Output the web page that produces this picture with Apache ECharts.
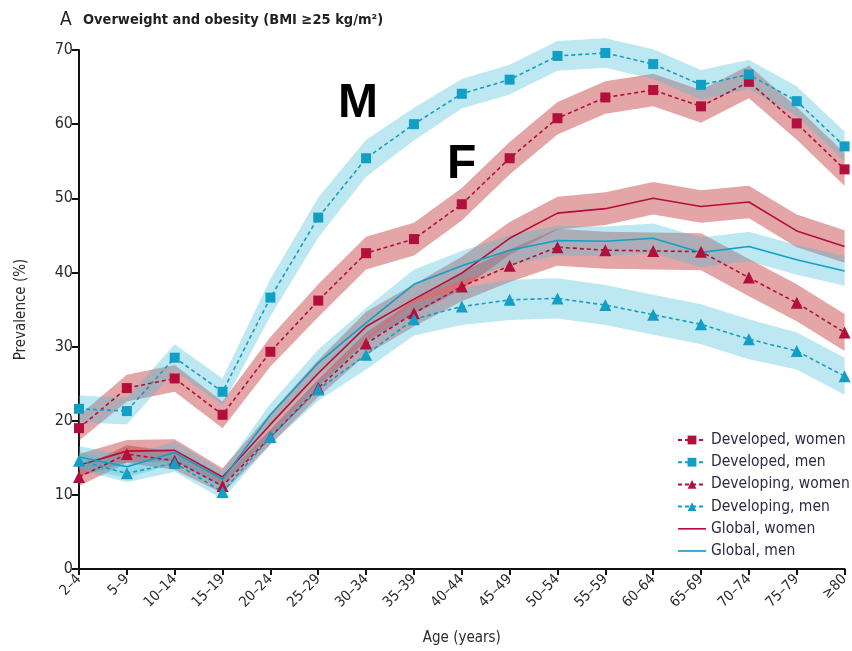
<!DOCTYPE html>
<html>
<head>
<meta charset="utf-8">
<script src="https://cdn.jsdelivr.net/npm/echarts@6/dist/echarts.min.js"></script>
<style>
  html, body { margin: 0; padding: 0; background: #fff; }
  #chart { width: 852px; height: 651px; }
</style>
</head>
<body>
<div id="chart"></div>
<script>
// Age groups
const ageGroups = ['2–4','5–9','10–14','15–19','20–24','25–29','30–34','35–39','40–44','45–49','50–54','55–59','60–64','65–69','70–74','75–79','≥80'];

// Prevalence of overweight and obesity (%), central estimates
const developedWomen  = [19.0, 24.4, 25.7, 20.8, 29.3, 36.2, 42.6, 44.5, 49.2, 55.4, 60.8, 63.6, 64.6, 62.4, 65.7, 60.1, 53.9];
const developedMen    = [21.6, 21.3, 28.5, 23.9, 36.6, 47.4, 55.4, 60.0, 64.1, 66.0, 69.2, 69.6, 68.1, 65.3, 66.7, 63.1, 57.0];
const developingWomen = [12.4, 15.5, 14.6, 11.2, 17.8, 24.4, 30.4, 34.5, 38.1, 40.9, 43.4, 43.0, 42.9, 42.8, 39.3, 35.9, 31.9];
const developingMen   = [14.6, 12.9, 14.3, 10.4, 17.8, 24.2, 28.9, 33.7, 35.4, 36.3, 36.5, 35.6, 34.3, 33.0, 31.0, 29.4, 26.0];
const globalWomen     = [14.0, 15.9, 16.0, 12.4, 19.5, 26.4, 32.7, 36.4, 39.9, 44.6, 48.0, 48.6, 50.0, 48.9, 49.5, 45.6, 43.5];
const globalMen       = [15.1, 13.8, 15.7, 12.1, 20.8, 27.8, 33.2, 38.4, 40.9, 43.0, 44.3, 44.2, 44.6, 42.7, 43.5, 41.7, 40.2];

// Half-widths of the uncertainty intervals (percentage points)
const developedWomenUI  = [1.7, 1.8, 1.8, 1.8, 2.0, 2.2, 2.2, 2.2, 2.2, 2.2, 2.2, 2.2, 2.2, 2.2, 2.2, 2.2, 2.2];
const developedMenUI    = [1.8, 1.8, 1.8, 1.8, 2.5, 2.7, 2.5, 2.2, 2.0, 2.0, 2.0, 2.0, 2.0, 2.0, 2.0, 2.0, 2.0];
const developingWomenUI = [1.2, 1.2, 1.2, 1.0, 1.0, 1.2, 1.5, 1.8, 2.0, 2.2, 2.5, 2.5, 2.5, 2.5, 2.5, 2.5, 2.5];
const developingMenUI   = [1.2, 1.2, 1.2, 1.0, 1.0, 1.5, 2.0, 2.2, 2.5, 2.7, 2.7, 2.7, 2.7, 2.7, 2.7, 2.5, 2.5];
const globalWomenUI     = [1.5, 1.5, 1.5, 1.2, 1.5, 1.8, 2.0, 2.0, 2.2, 2.2, 2.2, 2.2, 2.2, 2.2, 2.2, 2.2, 2.2];
const globalMenUI       = [1.5, 1.5, 1.5, 1.2, 1.5, 1.8, 2.0, 2.0, 2.0, 2.0, 2.0, 2.0, 2.0, 2.0, 2.0, 2.0, 2.0];

const yTicks = [0, 10, 20, 30, 40, 50, 60, 70];

const RED = '#b20f3c';
const CYAN = '#139ec6';
const RED_BAND = 'rgba(190,40,45,0.42)';
const CYAN_BAND = 'rgba(70,190,215,0.35)';
const FONT = '"Liberation Sans Narrow", "DejaVu Sans Condensed", "Open Sans", sans-serif';
const LINE_ICON = 'path://M0,0h34v2h-34z';

// Uncertainty band as a stacked pair: invisible lower edge + filled width
function band(key, mid, half, fill) {
  const lower = mid.map((v, i) => +(v - half[i]).toFixed(2));
  const width = half.map(h => +(2 * h).toFixed(2));
  return [
    { type: 'line', name: key + '-lo', stack: key, data: lower, symbol: 'none', silent: true, clip: false,
      lineStyle: { opacity: 0 }, emphasis: { disabled: true } },
    { type: 'line', name: key + '-hi', stack: key, data: width, symbol: 'none', silent: true, clip: false,
      lineStyle: { opacity: 0 }, areaStyle: { color: fill, opacity: 1 }, emphasis: { disabled: true } }
  ];
}

function line(name, data, color, dashed, symbol, size) {
  return {
    type: 'line', name, data, silent: true, clip: false,
    symbol: symbol || 'none', symbolSize: size || 0, showSymbol: !!symbol,
    itemStyle: { color },
    lineStyle: { color, width: 1.6, type: dashed ? [4, 3] : 'solid' },
    emphasis: { disabled: true }
  };
}

const series = [
  ...band('dw', developedWomen, developedWomenUI, RED_BAND),
  line('Developed, women', developedWomen, RED, true, 'rect', 10),
  ...band('dm', developedMen, developedMenUI, CYAN_BAND),
  line('Developed, men', developedMen, CYAN, true, 'rect', 10),
  ...band('gw', developingWomen, developingWomenUI, RED_BAND),
  line('Developing, women', developingWomen, RED, true, 'triangle', 12),
  ...band('tw', globalWomen, globalWomenUI, RED_BAND),
  line('Global, women', globalWomen, RED, false),
  ...band('tm', globalMen, globalMenUI, CYAN_BAND),
  line('Global, men', globalMen, CYAN, false),
  ...band('gm', developingMen, developingMenUI, CYAN_BAND),
  line('Developing, men', developingMen, CYAN, true, 'triangle', 12)
];

const chart = echarts.init(document.getElementById('chart'), null, { renderer: 'canvas' });
chart.setOption({
  animation: false,
  backgroundColor: '#fff',
  textStyle: { fontFamily: FONT },
  title: {
    text: '{a|A}  {b|Overweight and obesity (BMI ≥25 kg/m²)}',
    left: 55, top: 6,
    textStyle: {
      rich: {
        a: { fontFamily: FONT, fontSize: 19, color: '#231f20', fontWeight: 'normal' },
        b: { fontFamily: FONT, fontSize: 14.5, color: '#231f20', fontWeight: 'bold' }
      }
    }
  },
  grid: { left: 79, right: 1, top: 50, bottom: 82, containLabel: false },
  legend: {
    data: [
      'Developed, women', 'Developed, men', 'Developing, women', 'Developing, men',
      { name: 'Global, women', icon: LINE_ICON },
      { name: 'Global, men', icon: LINE_ICON }
    ],
    orient: 'vertical', left: 672, top: 427,
    itemWidth: 28, itemHeight: 11, itemGap: 6.2,
    textStyle: { fontFamily: FONT, fontSize: 15.5, color: '#2b2b45' },
    selectedMode: false
  },
  xAxis: {
    type: 'category', data: ageGroups, boundaryGap: false,
    name: 'Age (years)', nameLocation: 'middle', nameGap: 62,
    nameTextStyle: { fontFamily: FONT, fontSize: 15, color: '#2b2b2b' },
    axisLine: { lineStyle: { color: '#111', width: 2 } },
    axisTick: { show: true, length: 6, lineStyle: { color: '#111', width: 2 } },
    axisLabel: { rotate: 45, fontFamily: FONT, fontSize: 14.5, color: '#2b2b2b', margin: 8, interval: 0 },
    splitLine: { show: false }
  },
  yAxis: {
    type: 'value', min: yTicks[0], max: yTicks[yTicks.length - 1], interval: 10,
    name: 'Prevalence (%)', nameLocation: 'middle', nameGap: 50, nameRotate: 90,
    nameTextStyle: { fontFamily: FONT, fontSize: 15, color: '#2b2b2b' },
    axisLine: { show: true, lineStyle: { color: '#111', width: 2 } },
    axisTick: { show: true, length: 7, lineStyle: { color: '#111', width: 2 } },
    axisLabel: { fontFamily: FONT, fontSize: 16, color: '#2b2b2b', margin: 6 },
    splitLine: { show: false }
  },
  graphic: [
    { type: 'text', left: 338, top: 80, silent: true,
      style: { text: 'M', font: 'bold 48px "Liberation Sans", Arial, sans-serif', fill: '#000' } },
    { type: 'text', left: 447, top: 141, silent: true,
      style: { text: 'F', font: 'bold 48px "Liberation Sans", Arial, sans-serif', fill: '#000' } }
  ],
  series
});
</script>
</body>
</html>
